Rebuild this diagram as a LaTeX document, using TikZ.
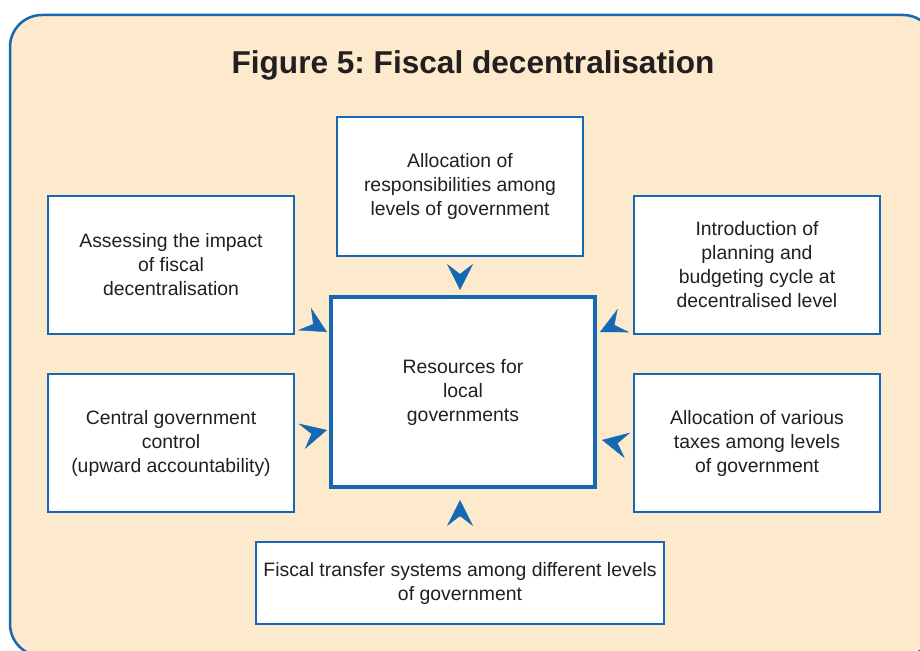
\documentclass[tikz,border=0pt]{standalone}
\usepackage{fontspec}
\setmainfont{Liberation Sans}
\usepackage{tikz}
\usetikzlibrary{arrows.meta}
\definecolor{fdblue}{HTML}{1569B4}
\definecolor{fdpanel}{HTML}{FDE9CC}
\definecolor{fdtext}{HTML}{231F20}
\frenchspacing
\tikzset{
  box/.style={draw=fdblue, line width=1.7pt, fill=white, text=fdtext,
    minimum width=246pt, minimum height=138pt, inner sep=0pt, outer sep=0pt,
    align=center, font=\fontsize{19.4pt}{24pt}\selectfont},
  hub/.style={box, line width=4pt, minimum width=264pt, minimum height=190pt},
  chevron/.style={fdblue, line width=0.4pt, -{Stealth[length=26pt,width=26pt,inset=10pt]}}
}
\begin{document}
\begin{tikzpicture}[x=1pt,y=1pt]
  \useasboundingbox (0,0) rectangle (920,650);
  \begin{scope}
    \clip (0,0) rectangle (920,650);
    \draw[fdblue, fill=fdpanel, line width=2.5pt, rounded corners=32pt] (10,-6) rectangle (935,635);
  \end{scope}
  \node[text=fdtext, font=\fontsize{31.6pt}{36pt}\selectfont\bfseries] (ttl) at (473,585) {Figure 5: Fiscal decentralisation};
  \node[hub] (c) at (463,258) {Resources for\\local\\governments};
  \node[box, minimum height=139pt] (alloc) at (460,463.5) {Allocation of\\responsibilities among\\levels of government};
  \node[box] (impact) at (171,385) {Assessing the impact\\of fiscal\\decentralisation};
  \node[box] (plan) at (757,385) {Introduction of\\planning and\\budgeting cycle at\\decentralised level};
  \node[box] (control) at (171,207) {Central government\\control\\(upward accountability)};
  \node[box] (taxes) at (757,207) {Allocation of various\\taxes among levels\\of government};
  \node[box, minimum width=408pt, minimum height=82pt] (transfer) at (460,67) {Fiscal transfer systems among different levels\\of government};
  \foreach \anc/\dx/\dy/\back [count=\i] in {north/-3/7/90, south/-3/-13/-90, north west/-4/-35/150,
      south west/-4/57/194, north east/5/-35/26, south east/7/47/-12} {
    \coordinate (tip\i) at ([xshift=\dx pt, yshift=\dy pt]c.\anc);
    \draw[chevron] ([shift={(\back:16)}]tip\i) -- (tip\i);
  }
\end{tikzpicture}
\end{document}
